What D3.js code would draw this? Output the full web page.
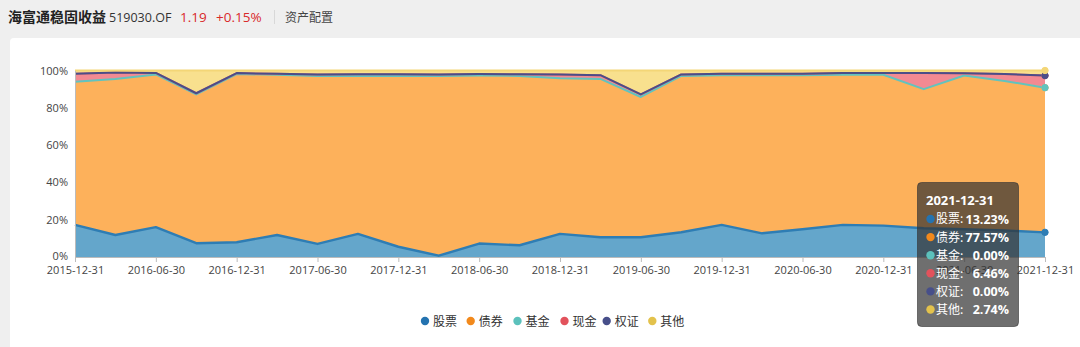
<!DOCTYPE html>
<html>
<head>
<meta charset="utf-8">
<script src="https://cdn.jsdelivr.net/npm/d3@7/dist/d3.min.js"></script>
<style>
  html, body { margin: 0; padding: 0; background: #efefef; }
  svg { display: block; }
  text { font-family: "Open Sans", "Noto Sans CJK SC", sans-serif; }
  .cjk { font-family: "Noto Sans CJK SC", "Open Sans", sans-serif; }
</style>
</head>
<body>
<svg id="chart" width="1080" height="347"></svg>
<script>
// Quarterly report dates
const dates = [
  "2015-12-31", "2016-03-31", "2016-06-30", "2016-09-30",
  "2016-12-31", "2017-03-31", "2017-06-30", "2017-09-30",
  "2017-12-31", "2018-03-31", "2018-06-30", "2018-09-30",
  "2018-12-31", "2019-03-31", "2019-06-30", "2019-09-30",
  "2019-12-31", "2020-03-31", "2020-06-30", "2020-09-30",
  "2020-12-31", "2021-03-31", "2021-06-30", "2021-09-30",
  "2021-12-31"
];

// Asset allocation shares (%)
const stock   = [17.2, 11.8, 16.0, 7.4, 7.9, 11.8, 7.0, 12.4, 5.5, 0.7, 7.2, 6.3, 12.4, 10.6, 10.6, 13.3, 17.2, 12.7, 14.9, 17.2, 16.8, 15.4, 14.9, 14.2, 13.23];
const bond    = [76.3, 83.2, 81.4, 79.1, 89.7, 85.4, 89.5, 84.2, 91.1, 95.9, 89.6, 90.3, 82.9, 84.4, 74.3, 83.3, 79.8, 84.3, 82.1, 80.0, 80.4, 74.1, 81.9, 79.8, 77.57];
const fund    = [0.5, 0.5, 0.5, 0.7, 0.5, 0.5, 0.5, 0.5, 0.5, 0.5, 0.5, 0.5, 0.5, 0.5, 0.9, 0.5, 0.5, 0.5, 0.5, 0.5, 0.5, 0.5, 0.5, 0.4, 0.00];
const cash    = [4.3, 3.4, 0.8, 0.6, 0.5, 0.5, 0.8, 0.9, 0.9, 0.8, 0.8, 0.9, 2.0, 2.0, 1.4, 0.8, 0.8, 0.8, 0.8, 1.0, 1.0, 8.7, 1.2, 3.7, 6.46];
const warrant = [0, 0, 0, 0, 0, 0, 0, 0, 0, 0, 0, 0, 0, 0, 0, 0, 0, 0, 0, 0, 0, 0, 0, 0, 0.00];
const other   = [1.7, 1.1, 1.3, 12.2, 1.4, 1.8, 2.2, 2.0, 2.0, 2.1, 1.9, 2.0, 2.2, 2.5, 12.8, 2.1, 1.7, 1.7, 1.7, 1.3, 1.3, 1.3, 1.5, 1.9, 2.74];

const seriesNames = ["股票", "债券", "基金", "现金", "权证", "其他"];
const xTickLabels = ["2015-12-31", "2016-06-30", "2016-12-31", "2017-06-30", "2017-12-31", "2018-06-30",
                     "2018-12-31", "2019-06-30", "2019-12-31", "2020-06-30", "2020-12-31", "2021-06-30", "2021-12-31"];
const yTicks = [0, 20, 40, 60, 80, 100];

const seriesValues = [stock, bond, fund, cash, warrant, other];
const areaColors  = ["#64a6cb", "#fdb15b", "#7ed0cb", "#f28a92", "#5d6096", "#f8e08e"];
const lineColors  = ["#2e7db4", "#fdb15b", "#62c3be", "#e8707a", "#4b4e88", "#f3d677"];
const dotColors   = ["#2473b0", "#f2891c", "#5cc1bc", "#e2525c", "#474f8a", "#e3c24c"];

const svg = d3.select("#chart");

// Header bar
const header = svg.append("g");
header.append("text").attr("class", "cjk").attr("x", 8).attr("y", 22)
  .attr("font-size", 14).attr("font-weight", "bold").attr("fill", "#222").text("海富通稳固收益");
header.append("text").attr("x", 109).attr("y", 22)
  .attr("font-size", 12.5).attr("fill", "#333").text("519030.OF");
header.append("text").attr("x", 180).attr("y", 22)
  .attr("font-size", 13.5).attr("fill", "#d9292b").text("1.19");
header.append("text").attr("x", 216).attr("y", 22)
  .attr("font-size", 13.5).attr("fill", "#d9292b").text("+0.15%");
header.append("line").attr("x1", 274.5).attr("x2", 274.5).attr("y1", 10).attr("y2", 24)
  .attr("stroke", "#d8d8d8");
header.append("text").attr("class", "cjk").attr("x", 285).attr("y", 21.5)
  .attr("font-size", 12).attr("fill", "#444").text("资产配置");

// White panel
svg.append("rect").attr("x", 10).attr("y", 38).attr("width", 1080).attr("height", 320)
  .attr("rx", 4).attr("fill", "#ffffff");

// Scales
const x = d3.scalePoint().domain(dates).range([75, 1045]);
const y = d3.scaleLinear().domain([0, 100]).range([257, 70.5]);

// Stacked layers
const keys = d3.range(seriesValues.length);
const rows = dates.map((d, i) => {
  const r = { date: d };
  keys.forEach(k => { r[k] = seriesValues[k][i]; });
  return r;
});
const stacked = d3.stack().keys(keys)(rows);

const area = d3.area()
  .x(d => x(d.data.date))
  .y0(d => y(d[0]))
  .y1(d => y(d[1]));
const line = d3.line()
  .x(d => x(d.data.date))
  .y(d => y(d[1]));

const plot = svg.append("g");
plot.selectAll("path.area").data(stacked).join("path")
  .attr("class", "area")
  .attr("d", area)
  .attr("fill", (d, i) => areaColors[i]);

plot.selectAll("path.line").data(stacked).join("path")
  .attr("class", "line")
  .attr("d", line)
  .attr("fill", "none")
  .attr("stroke", (d, i) => lineColors[i])
  .attr("stroke-width", (d, i) => i === 0 ? 2.4 : 2)
  .attr("stroke-linejoin", "round");

// Axes
const xAxis = d3.axisBottom(x).tickValues(xTickLabels).tickSize(5).tickSizeOuter(0).tickPadding(4);
const gx = svg.append("g").attr("transform", "translate(0,257)").call(xAxis);
gx.select(".domain").attr("stroke", "#bbb");
gx.selectAll(".tick line").attr("stroke", "#bbb");
gx.selectAll(".tick text").attr("font-size", 11).attr("fill", "#444")
  .attr("font-family", "'Open Sans', sans-serif");

const yAxis = d3.axisLeft(y).tickValues(yTicks).tickFormat(d => d + "%").tickSize(0).tickPadding(7);
const gy = svg.append("g").attr("transform", "translate(75,0)").call(yAxis);
gy.select(".domain").attr("stroke", "#bbb");
gy.selectAll(".tick text").attr("font-size", 11).attr("fill", "#444")
  .attr("font-family", "'Open Sans', sans-serif");
gy.selectAll(".tick text").filter(d => d === 0).attr("dy", "0.2em");

// Highlighted points at the latest date
const last = dates.length - 1;
plot.selectAll("circle.end").data(stacked).join("circle")
  .attr("class", "end")
  .attr("cx", x(dates[last]))
  .attr("cy", d => y(d[last][1]))
  .attr("r", 3.2)
  .attr("fill", (d, i) => lineColors[i])
  .attr("stroke", (d, i) => lineColors[i])
  .attr("stroke-width", 1);

// Legend
const legend = svg.append("g");
const legendX = [425, 470.7, 517.5, 564.5, 606.7, 652.3];
seriesNames.forEach((name, i) => {
  legend.append("circle").attr("cx", legendX[i]).attr("cy", 321).attr("r", 4.2).attr("fill", dotColors[i]);
  legend.append("text").attr("class", "cjk").attr("x", legendX[i] + 8).attr("y", 325.5)
    .attr("font-size", 12).attr("fill", "#333").text(name);
});

// Tooltip for the latest date
const tip = svg.append("g");
tip.append("rect").attr("x", 917.5).attr("y", 182.5).attr("width", 101).attr("height", 144)
  .attr("rx", 4).attr("fill", "rgba(50,50,50,0.7)").attr("stroke", "rgba(51,51,51,0.6)");
tip.append("text").attr("x", 926).attr("y", 205).attr("font-size", 13).attr("font-weight", "bold")
  .attr("fill", "#fff").text(dates[last]);
seriesNames.forEach((name, i) => {
  const cy = 219 + i * 18.1;
  tip.append("circle").attr("cx", 930.5).attr("cy", cy).attr("r", 4.2).attr("fill", dotColors[i]);
  tip.append("text").attr("class", "cjk").attr("x", 936).attr("y", cy + 4.4)
    .attr("font-size", 12).attr("fill", "#fff").text(name + ":");
  tip.append("text").attr("x", 1009).attr("y", cy + 4.6).attr("text-anchor", "end")
    .attr("font-size", 12.5).attr("font-weight", "bold").attr("fill", "#fff")
    .text(seriesValues[i][last].toFixed(2) + "%");
});
</script>
</body>
</html>
